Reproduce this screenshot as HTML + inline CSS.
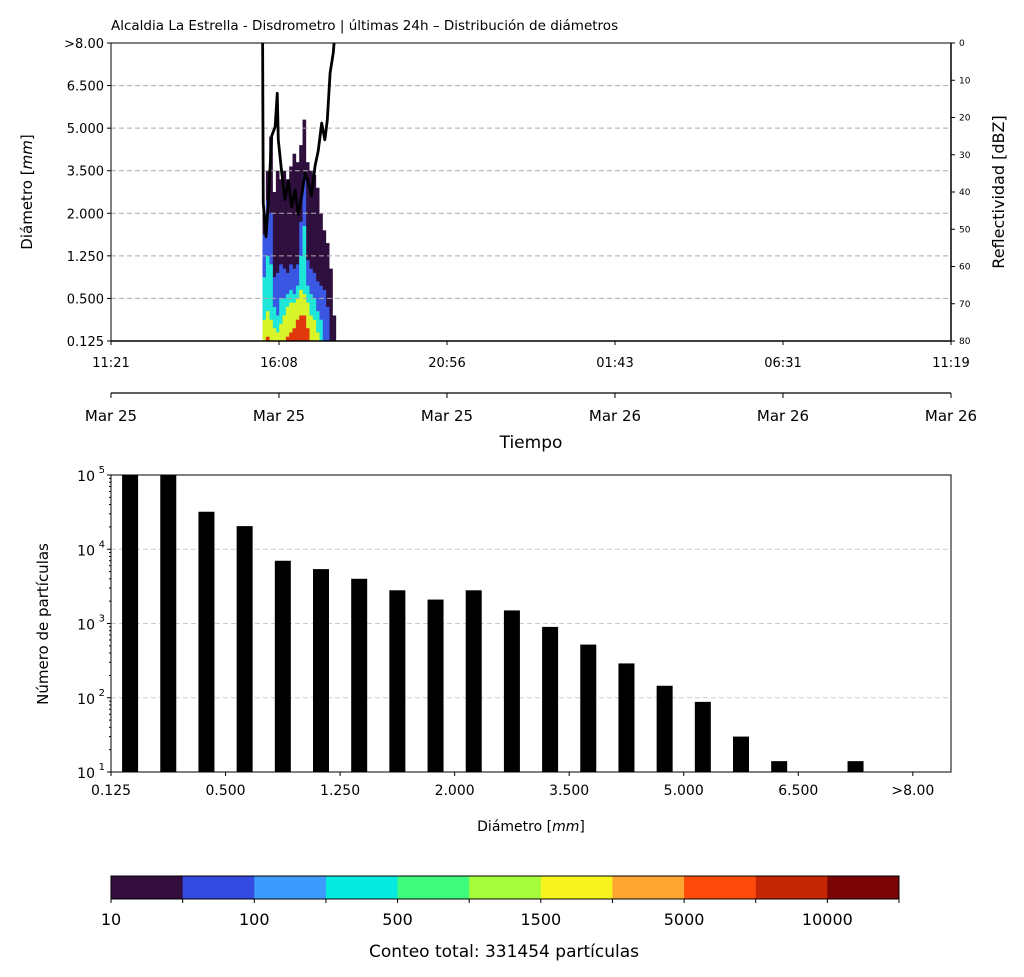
<!DOCTYPE html>
<html><head><meta charset="utf-8"><style>
body{margin:0;background:#fff;}
svg{display:block;font-family:"DejaVu Sans","Liberation Sans",sans-serif;}
</style></head><body>
<svg id="s" width="1024" height="977" viewBox="0 0 1024 977" xmlns="http://www.w3.org/2000/svg">
<defs><clipPath id="cp"><rect x="111" y="43" width="840" height="298"/></clipPath></defs>
<text x="111" y="30" font-size="13.5">Alcaldia La Estrella - Disdrometro | últimas 24h – Distribución de diámetros</text>
<g id="top"></g>
<g id="bot"></g>
<g id="cb"></g>
</svg>
<script>
// ---- top heatmap data ----
const diamLabels=[">8.00","6.500","5.000","3.500","2.000","1.250","0.500","0.125"];
const timeLabels=["11:21","16:08","20:56","01:43","06:31","11:19"];
const dateLabels=["Mar 25","Mar 25","Mar 25","Mar 26","Mar 26","Mar 26"];
const dbzTicks=[0,10,20,30,40,50,60,70,80];
const colStartHour=4.33;
const colStepHour=0.0952;
const purpleTop=[3.0,4.0,4.8,3.5,4.0,3.8,4.0,3.8,4.1,4.4,4.2,4.6,5.2,4.2,4.0,3.9,3.6,3.0,2.6,2.3,1.7,0.6];
const blueTop=[2.5,3.3,3.0,1.5,1.6,1.8,1.7,1.6,1.8,1.7,1.8,2.8,3.9,1.9,1.7,1.6,1.4,1.3,1.2,0.8,0,0];
const cyanTop=[1.5,2.0,1.8,0.8,0.6,1.0,1.0,1.1,1.2,1.1,1.3,2.0,2.7,1.3,1.1,1.0,0.7,0.5,0,0,0,0];
const yellowTop=[0.5,0.7,0.5,0.3,0.2,0.4,0.6,0.8,0.9,0.9,1.0,1.2,1.1,0.9,0.6,0.5,0.2,0,0,0,0,0];
const redTop=[0,0.1,0,0,0,0,0,0.1,0.2,0.3,0.5,0.6,0.6,0.3,0,0,0,0,0,0,0,0];
const reflHours=[4.33,4.35,4.43,4.50,4.59,4.69,4.75,4.78,4.88,4.97,5.07,5.16,5.26,5.35,5.45,5.54,5.64,5.73,5.83,5.92,6.02,6.11,6.18,6.26,6.35,6.40];
const reflDbz=[-5,43,52,42,25,22.5,13.5,26,35,42,37,44,39.5,46,41,35,37.5,41,33,29,21.5,26,20.7,8,2.7,-3];
// ---- histogram data ----
const histCats=["0.125","0.250","0.375","0.500","0.750","1.000","1.250","1.500","1.750","2.000","2.500","3.000","3.500","4.000","4.500","5.000","5.500","6.000","6.500","7.000","7.500",">8.00"];
const histCounts=[150000,150000,32000,20500,7000,5400,4000,2800,2100,2800,1500,900,520,290,145,88,30,14,0,14,0,0];
const histTickLabels=["0.125","0.500","1.250","2.000","3.500","5.000","6.500",">8.00"];
const yExp=[1,2,3,4,5];
// ---- colorbar ----
const cbColors=["#330d3c","#3349df","#3e9bfe","#05eadf","#3ffb7d","#a4fc3b","#f6f31d","#fea632","#fe4b0b","#c52603","#7a0403"];
const cbLabels=["10","100","500","1500","5000","10000"];

const NS="http://www.w3.org/2000/svg";
function mk(p,tag,a){const e=document.createElementNS(NS,tag);for(const k in a)e.setAttribute(k,a[k]);p.appendChild(e);return e;}
function tx(p,x,y,s,size,anchor,extra){const e=mk(p,"text",Object.assign({x:x,y:y,"font-size":size,"text-anchor":anchor||"middle"},extra||{}));e.textContent=s;return e;}

const T=document.getElementById("top");
const L=111,R=951,TT=43,TB=341;
const xT=h=>L+h*(R-L)/24;
const yU=u=>TB-u*(TB-TT)/7;
const yD=d=>TT+d*(TB-TT)/80;
const hc=[["#2e0f3d",purpleTop],["#3a57e4",blueTop],["#1ee6d8",cyanTop],["#d8f52a",yellowTop],["#e0380c",redTop]];
hc.forEach(([c,arr])=>{arr.forEach((v,i)=>{if(v<=0)return;
 const x0=xT(colStartHour+i*colStepHour),x1=xT(colStartHour+(i+1)*colStepHour);
 const r=mk(T,"rect",{x:x0,y:yU(v),width:x1-x0+0.3,height:TB-yU(v),fill:c});
 
 });});
for(let i=1;i<7;i++){const l=mk(T,"line",{x1:L,x2:R,y1:yU(i),y2:yU(i),stroke:"#aaa","stroke-dasharray":"5,3"});}
const pts=reflHours.map((h,i)=>xT(h)+","+yD(reflDbz[i])).join(" ");
const pl=mk(T,"polyline",{points:pts,fill:"none",stroke:"#000","stroke-width":2.8,"clip-path":"url(#cp)","stroke-linejoin":"round"});

mk(T,"rect",{x:L,y:TT,width:R-L,height:TB-TT,fill:"none",stroke:"#000","stroke-width":1});
mk(T,"line",{x1:R,x2:R,y1:TT,y2:TB,stroke:"#000","stroke-width":1.5});
mk(T,"line",{x1:L,x2:R,y1:TB,y2:TB,stroke:"#000","stroke-width":1.5});
diamLabels.forEach((s,i)=>{const y=TT+i*(TB-TT)/7;mk(T,"line",{x1:L-4,x2:L,y1:y,y2:y,stroke:"#000"});tx(T,L-7,y+5,s,13,"end");});
dbzTicks.forEach(d=>{const y=yD(d);mk(T,"line",{x1:R,x2:R+4,y1:y,y2:y,stroke:"#000"});tx(T,R+8,y+3,String(d),9,"start");});
timeLabels.forEach((s,i)=>{const x=L+i*(R-L)/5;mk(T,"line",{x1:x,x2:x,y1:TB,y2:TB+4,stroke:"#000"});tx(T,x,TB+26,s,13);});
mk(T,"line",{x1:L,x2:R,y1:393,y2:393,stroke:"#000","stroke-width":1.2});
dateLabels.forEach((s,i)=>{const x=L+i*(R-L)/5;mk(T,"line",{x1:x,x2:x,y1:393,y2:398,stroke:"#000"});tx(T,x,421,s,15);});
tx(T,531,448,"Tiempo",17,"middle",{});
const yt=tx(T,32,192,"Diámetro [",15,"middle",{transform:"rotate(-90 32 192)",});
const ts=mk(yt,"tspan",{"font-style":"italic"});ts.textContent="mm";yt.appendChild(document.createTextNode("]"));
tx(T,1004,192,"Reflectividad [dBZ]",16,"middle",{transform:"rotate(-90 1004 192)",});

const B=document.getElementById("bot");
const BT=475,BB=772;
const yL=v=>BB-(Math.log10(v)-1)*(BB-BT)/4;
const bw=(R-L)/histCats.length;
[2,3,4].forEach(e=>{const y=yL(Math.pow(10,e));mk(B,"line",{x1:L,x2:R,y1:y,y2:y,stroke:"#ccc","stroke-dasharray":"5,3"});});
histCounts.forEach((v,i)=>{if(v<=10)return;const top=Math.max(yL(v),BT);
 const r=mk(B,"rect",{x:L+bw*(i+0.5)-8,y:top,width:16,height:BB-top,fill:"#000"});
 });
mk(B,"rect",{x:L,y:BT,width:R-L,height:BB-BT,fill:"none",stroke:"#000"});
yExp.forEach(e=>{const y=yL(Math.pow(10,e));mk(B,"line",{x1:L-4,x2:L,y1:y,y2:y,stroke:"#000"});
 tx(B,L-16,y+6,"10",14,"end");tx(B,L-6,y-2,String(e),10,"end");
 for(let k=2;k<10&&e<5;k++){const yy=yL(k*Math.pow(10,e));mk(B,"line",{x1:L-2,x2:L,y1:yy,y2:yy,stroke:"#000"});}});
histTickLabels.forEach((s,i)=>{const x=L+i*3*bw;mk(B,"line",{x1:x,x2:x,y1:BB,y2:BB+4,stroke:"#000"});tx(B,x,BB+23,s,14);});
const xt=tx(B,531,831,"Diámetro [",14,"middle",{});
const ts2=mk(xt,"tspan",{"font-style":"italic"});ts2.textContent="mm";xt.appendChild(document.createTextNode("]"));
tx(B,48,624,"Número de partículas",15,"middle",{transform:"rotate(-90 48 624)",});

const C=document.getElementById("cb");
const CL=111,CR=899,cw=(CR-CL)/cbColors.length;
cbColors.forEach((c,i)=>{const r=mk(C,"rect",{x:CL+i*cw,y:876,width:cw+0.5,height:23,fill:c});});
mk(C,"rect",{x:CL,y:876,width:CR-CL,height:23,fill:"none",stroke:"#000"});
for(let i=0;i<=cbColors.length;i++){const x=CL+i*cw;mk(C,"line",{x1:x,x2:x,y1:899,y2:903,stroke:"#000"});}
cbLabels.forEach((s,i)=>tx(C,CL+i*2*cw,925,s,16));
tx(C,504,957,"Conteo total: 331454 partículas",17,"middle",{});
</script>
</body></html>
